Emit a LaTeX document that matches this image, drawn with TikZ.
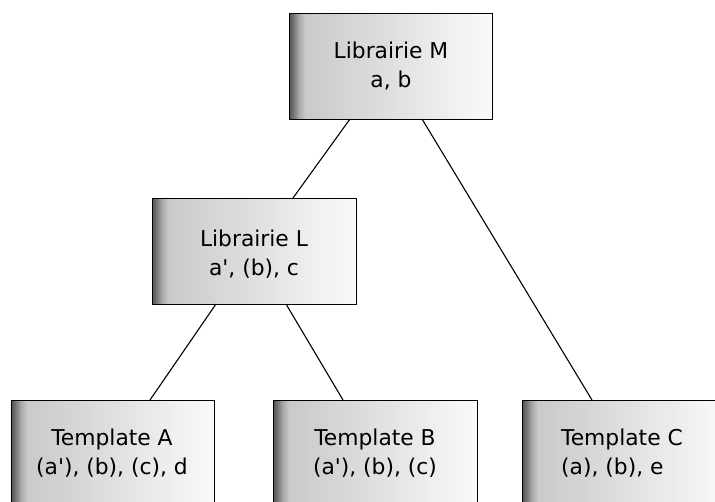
\documentclass[tikz,border=0pt]{standalone}
\usepackage{fontspec}
\setmainfont{DejaVu Sans}
% grey-to-white fill with a darker band at the left edge
\pgfdeclarehorizontalshading{boxshade}{100bp}{%
  color(0bp)=(black!68); color(25bp)=(black!68);
  color(26bp)=(black!55); color(27.5bp)=(black!33);
  color(29bp)=(black!21); color(75bp)=(black!2); color(100bp)=(black!2)}
\tikzset{
  module/.style={draw=black, line width=1pt, shading=boxshade},
  boxtext/.style={font=\fontsize{21.8}{29.5}\selectfont, align=center, inner sep=0pt},
  link/.style={draw=black, line width=1.1pt}
}
\begin{document}
\begin{tikzpicture}[x=1pt,y=-1pt]
\useasboundingbox (0,0) rectangle (715,501);
\clip (0,0) rectangle (715,501);
% boxes
\path[module] (289,13) rectangle (492,119);
\path[module] (152,198) rectangle (356,304);
\path[module] (11,400) rectangle (214,520);
\path[module] (273,400) rectangle (477,520);
\path[module] (522,400) rectangle (726,520);
% box texts
\node[boxtext] (m) at (391,66) {Librairie M\\a, b};
\node[boxtext] (l) at (254,254) {Librairie L\\a\textquotesingle, (b), c};
\node[boxtext] (ta) at (112,453) {Template A\\(a\textquotesingle), (b), (c), d};
\node[boxtext] (tb) at (375,453) {Template B\\(a\textquotesingle), (b), (c)};
\node[boxtext, align=left, anchor=west] (tc) at (561,453) {Template C\\(a), (b), e};
% connector end points on box edges
\coordinate (mL) at (350,119);
\coordinate (mR) at (422,119);
\coordinate (lT) at (293,198);
\coordinate (lL) at (216,304);
\coordinate (lR) at (286,304);
\coordinate (aT) at (150,400);
\coordinate (bT) at (343,400);
\coordinate (cT) at (592,400);
\draw[link] (mL) -- (lT);
\draw[link] (mR) -- (cT);
\draw[link] (lL) -- (aT);
\draw[link] (lR) -- (bT);
\end{tikzpicture}
\end{document}
